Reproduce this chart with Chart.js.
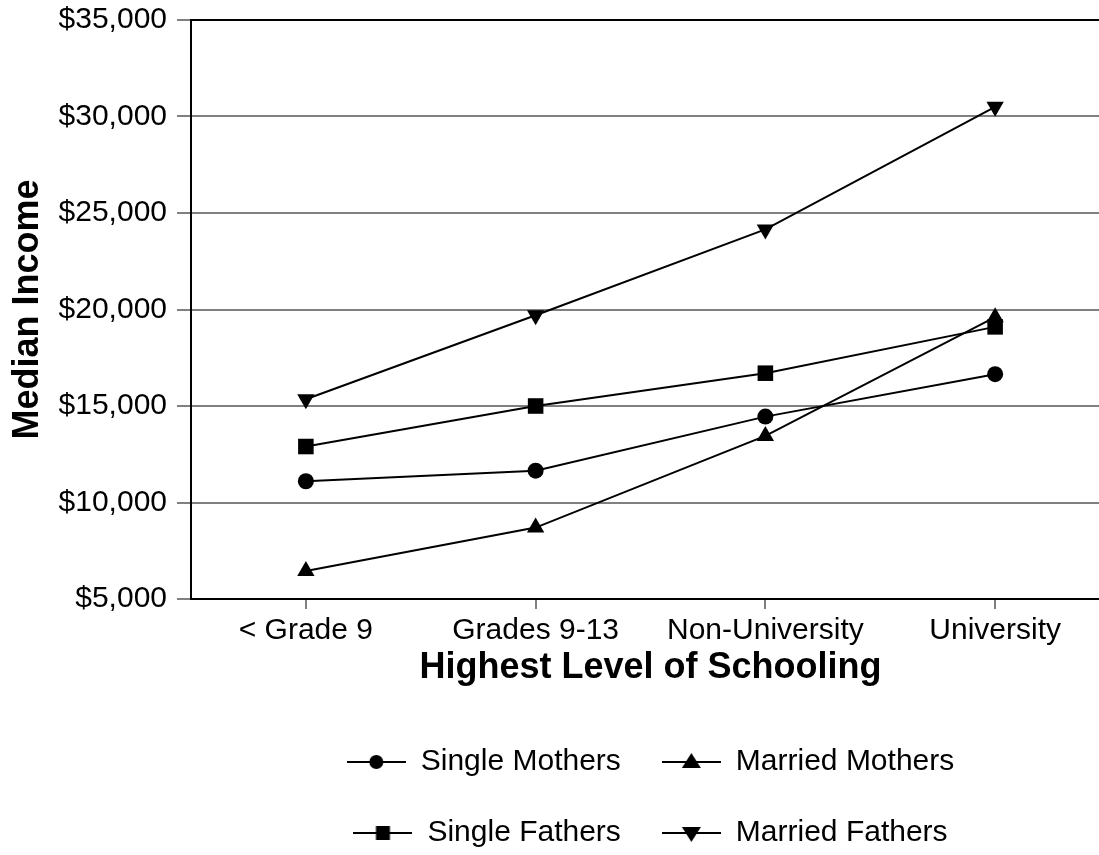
<!DOCTYPE html>
<html>
<head>
<meta charset="utf-8">
<script src="https://cdn.jsdelivr.net/npm/chart.js@4/dist/chart.umd.min.js"></script>
<style>
    html, body { margin: 0; padding: 0; background: #fff; }
    #wrap { width: 1099px; height: 855px; overflow: hidden; position: relative; }
    #chart { position: absolute; left: 0; top: 0; }
</style>
</head>
<body>
<div id="wrap">
    <canvas id="chart" width="1130" height="858"></canvas>
</div>
<script>
const categories = ['< Grade 9', 'Grades 9-13', 'Non-University', 'University']
const singleMothers = [11100, 11650, 14450, 16650]
const marriedMothers = [6450, 8700, 13450, 19600]
const singleFathers = [12900, 15000, 16700, 19100]
const marriedFathers = [15350, 19700, 24150, 30500]
const yTickLabels = ['$5,000', '$10,000', '$15,000', '$20,000', '$25,000', '$30,000', '$35,000']

const FONT = "'Liberation Sans', Arial, Helvetica, sans-serif"
const GRAY = '#808080'

Chart.defaults.font.family = FONT
Chart.defaults.color = '#000'

// small line + marker images for the legend
function legendIcon(shape) {
    const c = document.createElement('canvas')
    c.width = 59
    c.height = 24
    const ctx = c.getContext('2d')
    ctx.strokeStyle = '#000'
    ctx.lineWidth = 2
    ctx.beginPath()
    ctx.moveTo(0, 12)
    ctx.lineTo(59, 12)
    ctx.stroke()
    ctx.fillStyle = '#000'
    const cx = 29.5
    const cy = 12
    ctx.beginPath()
    if (shape === 'circle') {
        ctx.arc(cx, cy, 7, 0, Math.PI * 2)
    } else if (shape === 'rect') {
        ctx.rect(cx - 7, cy - 7, 14, 14)
    } else if (shape === 'up') {
        ctx.moveTo(cx, cy - 9)
        ctx.lineTo(cx + 9.5, cy + 6)
        ctx.lineTo(cx - 9.5, cy + 6)
        ctx.closePath()
    } else {
        ctx.moveTo(cx, cy + 9)
        ctx.lineTo(cx + 9.5, cy - 6)
        ctx.lineTo(cx - 9.5, cy - 6)
        ctx.closePath()
    }
    ctx.fill()
    return c
}

const icons = [legendIcon('circle'), legendIcon('up'), legendIcon('rect'), legendIcon('down')]

function series(label, data, style, radius, rotation) {
    return {
        label: label,
        data: data,
        borderColor: '#000',
        borderWidth: 2,
        backgroundColor: '#000',
        tension: 0,
        pointStyle: style,
        pointRadius: radius,
        pointRotation: rotation,
        pointBackgroundColor: '#000',
        pointBorderColor: '#000',
        pointBorderWidth: 0,
        xAxisID: 'x',
    }
}

new Chart(document.getElementById('chart'), {
    type: 'line',
    data: {
        labels: categories,
        datasets: [
            series('Single Mothers', singleMothers, 'circle', 8, 0),
            series('Married Mothers', marriedMothers, 'triangle', 10, 0),
            series('Single Fathers', singleFathers, 'rect', 11, 0),
            series('Married Fathers', marriedFathers, 'triangle', 10, 180),
        ]
    },
    options: {
        responsive: false,
        animation: false,
        events: [],
        layout: {
            padding: { top: 20, right: 20, bottom: 0, left: 0 }
        },
        plugins: {
            tooltip: { enabled: false },
            legend: {
                position: 'bottom',
                fullSize: false,
                labels: {
                    usePointStyle: true,
                    pointStyleWidth: 59,
                    padding: 41,
                    color: '#000',
                    font: { size: 30 },
                    generateLabels: (chart) => {
                        const items = Chart.defaults.plugins.legend.labels.generateLabels(chart)
                        items.forEach((item, i) => {
                            item.pointStyle = icons[i]
                            item.rotation = 0
                        })
                        return items
                    }
                }
            }
        },
        scales: {
            x: {
                type: 'category',
                position: 'bottom',
                offset: true,
                afterFit: (scale) => { scale.height = 107 },
                grid: {
                    drawOnChartArea: false,
                    drawTicks: true,
                    tickLength: 10,
                    color: GRAY,
                    lineWidth: 2,
                },
                border: { display: true, color: '#000', width: 2 },
                ticks: {
                    color: '#000',
                    padding: 4,
                    maxRotation: 0,
                    autoSkip: false,
                    font: { size: 30 },
                },
                title: {
                    display: true,
                    text: 'Highest Level of Schooling',
                    color: '#000',
                    font: { size: 36, weight: 'bold' },
                    padding: { top: 0, bottom: 16 },
                }
            },
            x2: {
                type: 'category',
                position: 'top',
                offset: true,
                grid: { display: false, drawTicks: false },
                border: { display: true, color: '#000', width: 2 },
                ticks: { display: false },
            },
            y: {
                min: 5000,
                max: 35000,
                afterFit: (scale) => {
                    scale.width = 191
                    scale.paddingTop = 0
                    scale.paddingBottom = 0
                },
                grid: {
                    color: GRAY,
                    lineWidth: 2,
                    tickLength: 14,
                },
                border: { display: true, color: '#000', width: 2 },
                ticks: {
                    stepSize: 5000,
                    color: '#000',
                    padding: 10,
                    font: { size: 30 },
                    callback: (value, index) => yTickLabels[index],
                },
                title: {
                    display: true,
                    text: 'Median Income',
                    color: '#000',
                    font: { size: 36, weight: 'bold' },
                    padding: { top: 6, bottom: 0 },
                }
            }
        }
    }
})
</script>
</body>
</html>
